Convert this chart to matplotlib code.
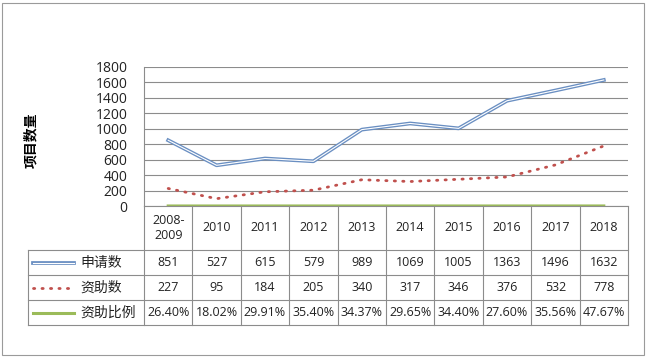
import matplotlib
matplotlib.use("Agg")
import matplotlib.pyplot as plt
from matplotlib.patches import Rectangle

plt.rcParams['font.family'] = ['Noto Sans CJK SC', 'DejaVu Sans']

# datos
years = ["2008-\n2009", "2010", "2011", "2012", "2013", "2014", "2015", "2016", "2017", "2018"]
applied = [851, 527, 615, 579, 989, 1069, 1005, 1363, 1496, 1632]
funded = [227, 95, 184, 205, 340, 317, 346, 376, 532, 778]
ratio_pct = [26.40, 18.02, 29.91, 35.40, 34.37, 29.65, 34.40, 27.60, 35.56, 47.67]
series_names = ["申请数", "资助数", "资助比例"]
y_label = "项目数量"

W, H = 648, 358
GRID = '#8c8c8c'
BLUE = '#6a8fc2'
RED = '#c0504d'
GREEN = '#9bbb59'
DOTS = (0, (0.45, 2.6))


def box(x0, y0, x1, y1):
    return [x0 / W, 1 - y1 / H, (x1 - x0) / W, (y1 - y0) / H]


fig = plt.figure(figsize=(W / 100, H / 100), dpi=100)
fig.patch.set_facecolor('white')
fig.add_artist(Rectangle((2 / W, 3 / H), 642 / W, 352 / H, transform=fig.transFigure,
                         fill=False, edgecolor='#9a9a9a', lw=0.8))

# grafico
ax = fig.add_axes(box(144, 67, 628, 206))
x = list(range(len(years)))
ax.plot(x, applied, color=BLUE, lw=2.7, solid_joinstyle='round')
ax.plot(x, applied, color='white', lw=0.8, solid_joinstyle='round')
ax.plot(x, funded, color=RED, lw=2.0, linestyle=DOTS, dash_capstyle='round')
ax.plot(x, [r / 100 for r in ratio_pct], color=GREEN, lw=2.2, zorder=3)
ax.set_xlim(-0.5, len(years) - 0.5)
ax.set_ylim(0, 1800)
ax.set_yticks(range(0, 1801, 200))
ax.set_xticks([])
ax.yaxis.grid(True, color=GRID, lw=0.8)
ax.set_axisbelow(True)
for s in ['top', 'right', 'bottom']:
    ax.spines[s].set_visible(False)
ax.spines['left'].set_color(GRID)
ax.spines['left'].set_linewidth(0.8)
ax.tick_params(axis='y', length=0, pad=12, labelsize=10, labelcolor='#222222')
for lbl in ax.get_yticklabels():
    lbl.set_family(['Open Sans', 'DejaVu Sans'])
fig.text(31 / W, 1 - 140 / H, y_label, rotation=90, weight='bold', ha='center',
         va='center', fontsize=10)

# tabla
col_px = 484 / len(years)
leg_cols = (144 - 28) / col_px
tax = fig.add_axes(box(28, 206, 628, 325))
hdr = 44 / 25
nrow = len(series_names)
tax.set_xlim(-0.5 - leg_cols, len(years) - 0.5)
tax.set_ylim(hdr + nrow, 0)
tax.axis('off')


def px2x(px):
    return (px - 144) / col_px - 0.5


L0 = -0.5 - leg_cols
R0 = len(years) - 0.5
kw = dict(color=GRID, lw=0.8, clip_on=False)
for k in range(len(years) + 1):
    tax.plot([k - 0.5, k - 0.5], [0, hdr + nrow], **kw)
tax.plot([L0, L0], [hdr, hdr + nrow], **kw)
tax.plot([-0.5, R0], [0, 0], **kw)
for r in range(nrow + 1):
    tax.plot([L0, R0], [hdr + r, hdr + r], **kw)

tfont = dict(ha='center', va='center', fontsize=9, color='#222222',
             family=['Open Sans', 'DejaVu Sans'])
for i, yr in enumerate(years):
    tax.text(i, hdr / 2, yr, linespacing=1.15, **tfont)
    tax.text(i, hdr + 0.5, str(applied[i]), **tfont)
    tax.text(i, hdr + 1.5, str(funded[i]), **tfont)
    tax.text(i, hdr + 2.5, f"{ratio_pct[i]:.2f}%", **tfont)

sx = [px2x(33), px2x(74)]
yc = hdr + 0.5
tax.plot(sx, [yc, yc], color=BLUE, lw=2.7, clip_on=False)
tax.plot(sx, [yc, yc], color='white', lw=0.8, clip_on=False)
tax.plot(sx, [yc + 1, yc + 1], color=RED, lw=2.0, linestyle=DOTS,
         dash_capstyle='round', clip_on=False)
tax.plot(sx, [yc + 2, yc + 2], color=GREEN, lw=2.2, clip_on=False)
for r, name in enumerate(series_names):
    tax.text(px2x(80), hdr + 0.5 + r, name, ha='left', va='center', fontsize=10,
             color='#222222')

fig.savefig("out.png", dpi=100)
